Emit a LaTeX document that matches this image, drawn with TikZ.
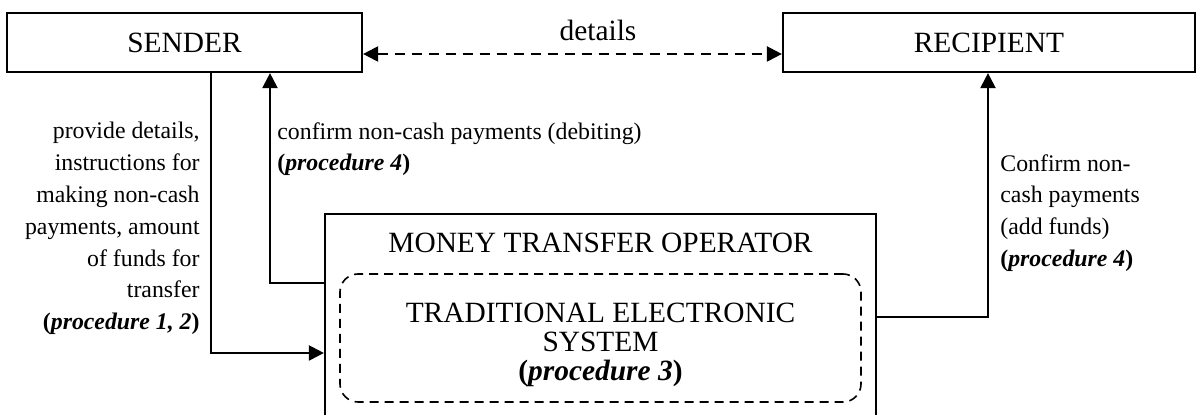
\documentclass[tikz,border=0pt]{standalone}
\usepackage{fontspec}
\setmainfont{Liberation Serif}
\usetikzlibrary{arrows.meta}
\begin{document}
\begin{tikzpicture}[x=0.5pt,y=-0.5pt,
  box/.style={draw, line width=1.1pt, inner sep=0pt},
  dbox/.style={draw, line width=0.8pt, dash pattern=on 4.5pt off 3pt, rounded corners=9pt, inner sep=0pt},
  tip/.style={-{Triangle[length=7.5pt,width=7.5pt]}},
  conn/.style={line width=1.1pt, tip},
  dconn/.style={line width=1.1pt, dash pattern=on 5pt off 3.5pt, {Triangle[length=7.5pt,width=7.5pt]}-{Triangle[length=7.5pt,width=7.5pt]}},
  big/.style={font=\fontsize{14.7}{14.5}\selectfont, inner sep=0pt},
  small/.style={font=\fontsize{11.9}{15.9}\selectfont, inner sep=0pt}]
\useasboundingbox (0,0) rectangle (1196,415);
\clip (0,0) rectangle (1196,415);

\node[box, big, minimum width=177.5pt, minimum height=29.5pt] (sender) at (184.5,42.5) {SENDER};
\node[box, big, minimum width=206pt, minimum height=29.5pt] (recipient) at (989,42.5) {RECIPIENT};
\node[box, minimum width=275.5pt, minimum height=101.5pt] (mto) at (600.5,315.5) {};
\node[big] (mtotitle) at (600.5,243) {MONEY TRANSFER OPERATOR};
\node[dbox, minimum width=260.5pt, minimum height=64pt] (tesbox) at (600.5,338) {};
\node[big, align=center] (tes) at (600.5,345) {TRADITIONAL ELECTRONIC\\SYSTEM\\\textbf{(\textit{procedure 3})}};

\node[big] (details) at (598,30) {details};
\coordinate (a4) at (598,54);
\draw[dconn] (sender.east |- a4) -- (recipient.west |- a4);

\coordinate (a1) at (211,353);
\draw[conn] (sender.south -| a1) |- (mto.west |- a1);
\coordinate (a2) at (270,283);
\draw[conn] (mto.west |- a2) -| (sender.south -| a2);
\coordinate (a3) at (988,317);
\draw[conn] (mto.east |- a3) -| (recipient.south -| a3);

\node[small, align=right, anchor=north east] (l1) at (200,122) {provide details,\\instructions for\\making non-cash\\payments, amount\\of funds for\\transfer\\\textbf{(\textit{procedure 1, 2})}};
\node[small, align=left, anchor=north west] (l2) at (277,122) {confirm non-cash payments (debiting)\\\textbf{(\textit{procedure 4})}};
\node[small, align=left, anchor=north west] (l3) at (1000,154) {Confirm non-\\cash payments\\(add funds)\\\textbf{(\textit{procedure 4})}};
\end{tikzpicture}
\end{document}
